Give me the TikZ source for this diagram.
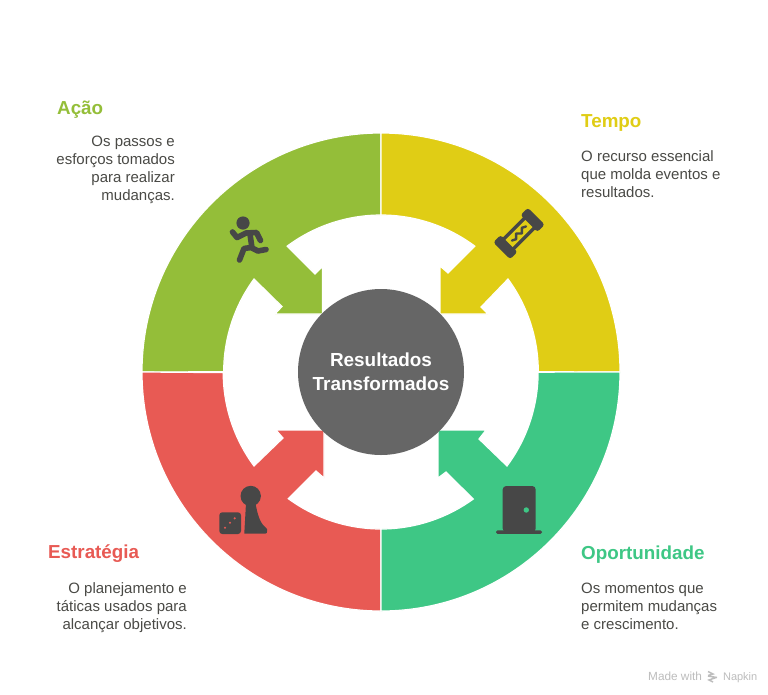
\documentclass[tikz,border=0pt]{standalone}
\usepackage{fontspec}
\setmainfont{Liberation Sans}
\usetikzlibrary{calc}
\definecolor{cgreen}{HTML}{94BE39}
\definecolor{cyellow}{HTML}{E0CD15}
\definecolor{cred}{HTML}{E85A54}
\definecolor{cteal}{HTML}{3EC785}
\definecolor{ccore}{HTML}{666666}
\definecolor{ctext}{HTML}{4A4A46}
\definecolor{cicon}{HTML}{474747}
\definecolor{cmark}{HTML}{BDBDBD}
\tikzset{
  sector/.style={draw=white,line width=1.2pt,line join=miter},
  heading/.style={inner sep=0pt,font=\fontsize{18.8}{22}\selectfont\bfseries},
  bodyl/.style={inner sep=0pt,align=left,text=ctext,font=\fontsize{15}{18}\selectfont},
  bodyr/.style={inner sep=0pt,align=right,text=ctext,font=\fontsize{15}{18}\selectfont},
  limb/.style={draw=cicon,line width=5.6pt,line cap=round,line join=round},
}
\begin{document}
\begin{tikzpicture}[x=1pt,y=1pt]
\useasboundingbox (0,0) rectangle (768,-694);
\fill[white] (0,0) rectangle (768,-694);
\coordinate (c) at (381,-372);
\begin{scope}[shift={(c)}]
% green
\draw[sector,fill=cgreen] (-239,0) arc[start angle=180,end angle=90,radius=239] -- (0,157)
  arc[start angle=90,end angle=126.7,radius=157] -- (-66,98) -- (-58.5,105.5) -- (-58.5,58) -- (-106,58) -- (-99,65.5) -- (-127,93)
  arc[start angle=143.8,end angle=180,radius=157] -- cycle;
% yellow
\draw[sector,fill=cyellow] (239,0) arc[start angle=0,end angle=90,radius=239] -- (0,157)
  arc[start angle=90,end angle=53.3,radius=157] -- (67,99) -- (59,106) -- (59,58) -- (107,58) -- (100,65) -- (127,93)
  arc[start angle=36.2,end angle=0,radius=157] -- cycle;
% red
\draw[sector,fill=cred] (-239,0) arc[start angle=180,end angle=270,radius=239] -- (0,-157)
  arc[start angle=270,end angle=233.8,radius=157] -- (-65,-99) -- (-57,-106) -- (-57,-58) -- (-105,-58) -- (-98,-66) -- (-127,-94)
  arc[start angle=216.5,end angle=180,radius=157] -- cycle;
% teal
\draw[sector,fill=cteal] (239,0) arc[start angle=0,end angle=-90,radius=239] -- (0,-157)
  arc[start angle=-90,end angle=-54,radius=157] -- (65,-100) -- (57,-106) -- (57,-58) -- (105,-58) -- (98,-67) -- (126,-94)
  arc[start angle=-36.7,end angle=0,radius=157] -- cycle;
\end{scope}
\node[circle,fill=ccore,minimum size=166pt,inner sep=0pt,text=white,align=center,font=\fontsize{18.9}{24}\selectfont\bfseries] (core) at (c) {Resultados\\Transformados};
% labels
\node[heading,text=cgreen,anchor=base west] (acao) at (57,-114.5) {Ação};
\node[bodyr,anchor=north east] (acaob) at (175,-135.5) {Os passos e\\esforços tomados\\para realizar\\mudanças.};
\node[heading,text=cyellow,anchor=base west] (tempo) at (581,-127) {Tempo};
\node[bodyl,anchor=north west] (tempob) at (581,-150.5) {O recurso essencial\\que molda eventos e\\resultados.};
\node[heading,text=cred,anchor=base west] (estr) at (48,-558) {Estratégia};
\node[bodyr,anchor=north east] (estrb) at (187,-582.5) {O planejamento e\\táticas usados para\\alcançar objetivos.};
\node[heading,text=cteal,anchor=base west] (opor) at (581,-559) {Oportunidade};
\node[bodyl,anchor=north west] (oporb) at (581,-582.5) {Os momentos que\\permitem mudanças\\e crescimento.};
% runner icon
\fill[cicon] (243,-223) circle (6.6);
\draw[limb] (232.5,-232) -- (237,-237.5) -- (246,-233) -- (256.5,-232.5) -- (260.5,-240.5);
\draw[limb] (250,-234) -- (252,-248) -- (258,-251) -- (266,-249.5);
\draw[limb] (251,-247.5) -- (244,-248.5) -- (239.5,-260);
% hourglass icon
\begin{scope}[shift={(519,-233.5)},rotate=45]
  \fill[cicon,rounded corners=3pt] (-24.5,-12) rectangle (-14,12);
  \fill[cicon,rounded corners=3pt] (14,-12) rectangle (24.5,12);
  \fill[cicon] (-16,-8.5) rectangle (16,8.5);
  \fill[cyellow] (-14,-5) rectangle (14,5);
  \draw[cicon,line width=2.4pt,line join=round,line cap=round] (-10,0) -- (-6,-2) -- (-2,2) -- (2,-2) -- (6,2) -- (10,0);
\end{scope}
% pawn and die icon
\fill[cicon] (250.7,-496) circle (10.2);
\fill[cicon] (246,-503) -- (244.3,-533.5) -- (265.5,-533.5)
  .. controls (267,-533.5) and (267,-532.5) .. (267,-531.5) -- (267,-529)
  .. controls (261,-524) and (258,-518) .. (255.5,-503) -- cycle;
\fill[cicon,rounded corners=3pt] (219.3,-512.3) rectangle (241,-534);
\fill[cred] (225,-527.7) circle (1.2) (230,-522.7) circle (1.2) (234.7,-518.3) circle (1.2);
% door icon
\fill[cicon,rounded corners=3.5pt] (502.7,-532) -- (502.7,-486) -- (535.7,-486) -- (535.7,-532) -- cycle;
\fill[cicon,rounded corners=1.5pt] (496,-530.3) rectangle (542,-533.8);
\fill[cteal] (526.3,-510) circle (2.7);
% watermark
\node[inner sep=0pt,anchor=base west,text=cmark,font=\fontsize{11.8}{13}\selectfont] (made) at (648,-680) {Made with};
\node[inner sep=0pt,anchor=base east,text=cmark,font=\fontsize{11}{13}\selectfont] (napkin) at (757.5,-680) {Napkin};
\draw[cmark,line width=1.5pt] (708,-671.5) -- (713,-674) -- (708,-675.5) (708,-676) -- (717,-677.5) (716,-677.5) -- (709,-680) -- (713,-682);
\end{tikzpicture}
\end{document}
